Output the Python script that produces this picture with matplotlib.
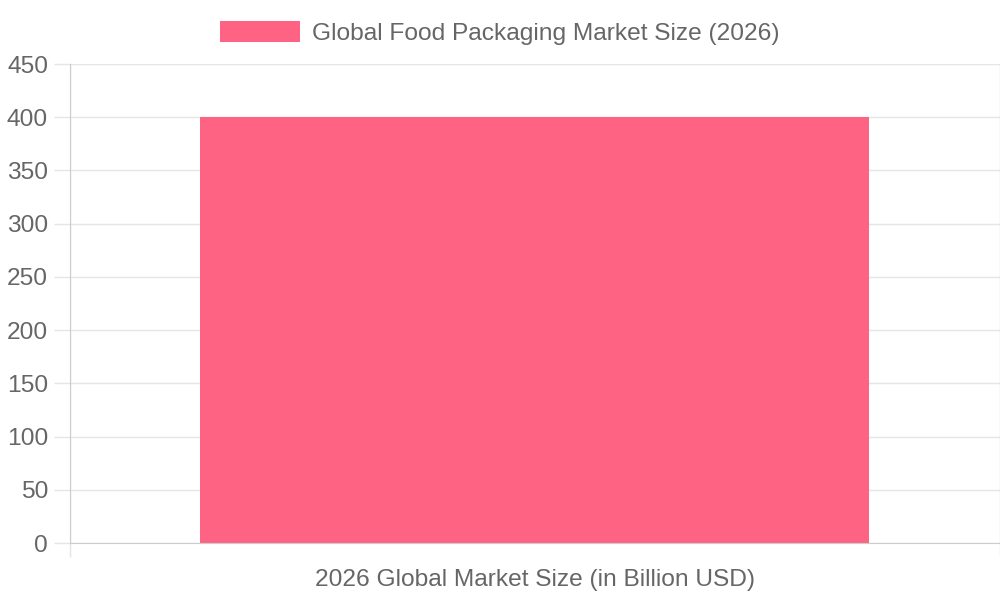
import matplotlib
matplotlib.use("Agg")
import matplotlib.pyplot as plt
from matplotlib.patches import Patch

categories = ["2026 Global Market Size (in Billion USD)"]
values = [400]
series_label = "Global Food Packaging Market Size (2026)"
yticks = [0, 50, 100, 150, 200, 250, 300, 350, 400, 450]

plt.rcParams['font.family'] = ['Liberation Sans', 'DejaVu Sans']
PX = 72 / 100
FS = 24.5
bar_color = "#FF6384"
grid_c = "#e5e5e5"
axis_c = "#cccccc"
text_c = "#666666"

fig = plt.figure(figsize=(10, 6), dpi=100)
ax = fig.add_axes([0.07, 0.095, 0.9295, 0.7983])

x = list(range(len(categories)))
ax.bar(x, values, width=0.72, color=bar_color, zorder=2)
ax.set_xlim(-0.5, len(categories) - 0.5)
ax.set_ylim(0, 450)
ax.set_yticks(yticks)
ax.set_yticklabels([str(t) for t in yticks])
ax.yaxis.grid(True, color=grid_c, linewidth=1, zorder=0)
ax.tick_params(axis='y', length=16 * PX, width=1, color=grid_c, labelsize=FS * PX,
               labelcolor=text_c, pad=6 * PX)

# category label
ax.set_xticks(x)
ax.set_xticklabels(categories)
ax.tick_params(axis='x', which='major', length=0, labelsize=FS * PX, labelcolor=text_c,
               pad=26 * PX)
# category boundary lines
edges = [i - 0.5 for i in range(len(categories) + 1)]
ax.set_xticks(edges, minor=True)
ax.tick_params(axis='x', which='minor', length=14 * PX, width=1, color=grid_c)
ax.xaxis.grid(True, which='minor', color=grid_c, linewidth=1, zorder=0)

for s in ['top', 'right']:
    ax.spines[s].set_visible(False)
ax.spines['left'].set_color(axis_c)
ax.spines['bottom'].set_color(axis_c)
ax.spines['left'].set_zorder(3)
ax.spines['bottom'].set_zorder(3)

handles = [Patch(facecolor=bar_color, edgecolor='none', label=series_label)]
fig.legend(handles=handles, loc='center', bbox_to_anchor=(0.5, 1 - 33 / 600), frameon=False,
           fontsize=FS * PX, labelcolor=text_c, handlelength=80 / FS, handleheight=23 / FS,
           handletextpad=12 / FS, borderpad=0)

fig.savefig("out.png", dpi=100)
